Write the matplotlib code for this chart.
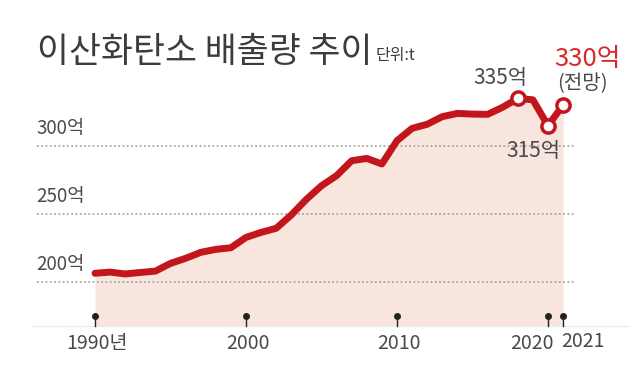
import matplotlib
matplotlib.use("Agg")
import matplotlib.pyplot as plt

plt.rcParams['font.family'] = ['Noto Sans CJK KR', 'DejaVu Sans']

# data (unit: 억 t)
years = list(range(1990, 2022))
values = [206.4, 207.3, 205.9, 207.0, 208.0, 213.7, 217.4, 221.8, 224.0, 225.2,
          232.8, 236.5, 239.5, 249.3, 260.8, 270.8, 278.2, 289.2, 290.9, 286.8,
          303.9, 313.0, 316.0, 321.6, 324.0, 323.5, 323.3, 328.5, 335.0, 334.0,
          315.0, 330.0]
grid_vals = [200, 250, 300]
grid_labels = ['200억', '250억', '300억']
tick_years = [1990, 2000, 2010, 2020, 2021]
tick_labels = ['1990년', '2000', '2010', '2020', '2021']
marked_years = [2018, 2020, 2021]

RED = '#c3161c'
FILL = '#f8e5dd'
GRAY = '#4a4a4a'

fig = plt.figure(figsize=(6.34, 3.78), dpi=100)
ax = fig.add_axes([0, 0, 1, 1])
ax.set_xlim(1983.707, 2025.70)
ax.set_ylim(129.4, 407.4)
ax.axis('off')

base = 168
# fill area under the line
ax.fill_between(years, values, base, color=FILL, lw=0, zorder=1)
ax.plot([1985.8, 2025.3], [base, base], color='#ececec', lw=1, zorder=1)

# dotted gridlines + labels
for v, lab in zip(grid_vals, grid_labels):
    ax.plot([1986.15, 2021.8], [v, v], color='#9a9a9a', lw=1.1,
            linestyle=(0, (1.2, 1.6)), zorder=2)
    ax.text(1986.1, v + 5, lab, fontsize=13.5, color=GRAY, ha='left', va='bottom')

# line
ax.plot(years, values, color=RED, lw=5, solid_joinstyle='round',
        solid_capstyle='round', zorder=3)
mx = [y for y in marked_years]
my = [values[years.index(y)] for y in marked_years]
ax.plot(mx, my, 'o', ms=9.5, mfc='white', mec=RED, mew=2.5, zorder=4)

# x ticks as pins
for y in tick_years:
    ax.plot([y, y], [175, base], color='#222222', lw=1, zorder=5)
    ax.plot(y, 175, 'o', ms=4, color='#222222', zorder=5)
for y, lab in zip(tick_years, tick_labels):
    if y == 2020:
        ax.text(y + 0.35, 155, lab, fontsize=14, color=GRAY, ha='right', va='center')
    elif y == 2021:
        ax.text(y - 0.15, 156, lab, fontsize=14, color=GRAY, ha='left', va='center')
    else:
        ax.text(y + 0.1, 155, lab, fontsize=14, color=GRAY, ha='center', va='center')

# annotations
ax.text(2018.6, 350, '335억', fontsize=15, color=GRAY, ha='right', va='center')
ax.text(2019.0, 296.3, '315억', fontsize=15, color=GRAY, ha='center', va='center')
ax.text(2022.6, 364, '330억', fontsize=18.5, color='#d42a2a', ha='center', va='center')
ax.text(2022.3, 346, '(전망)', fontsize=14.5, color=GRAY, ha='center', va='center')

# title
fig.text(0.058, 0.862, '이산화탄소 배출량 추이', fontsize=25, color='#3c3c3c',
         fontweight='light', ha='left', va='center')
fig.text(0.592, 0.852, '단위:t', fontsize=11.5, color='#3c3c3c', ha='left', va='center')

fig.savefig('out.png', dpi=100)
